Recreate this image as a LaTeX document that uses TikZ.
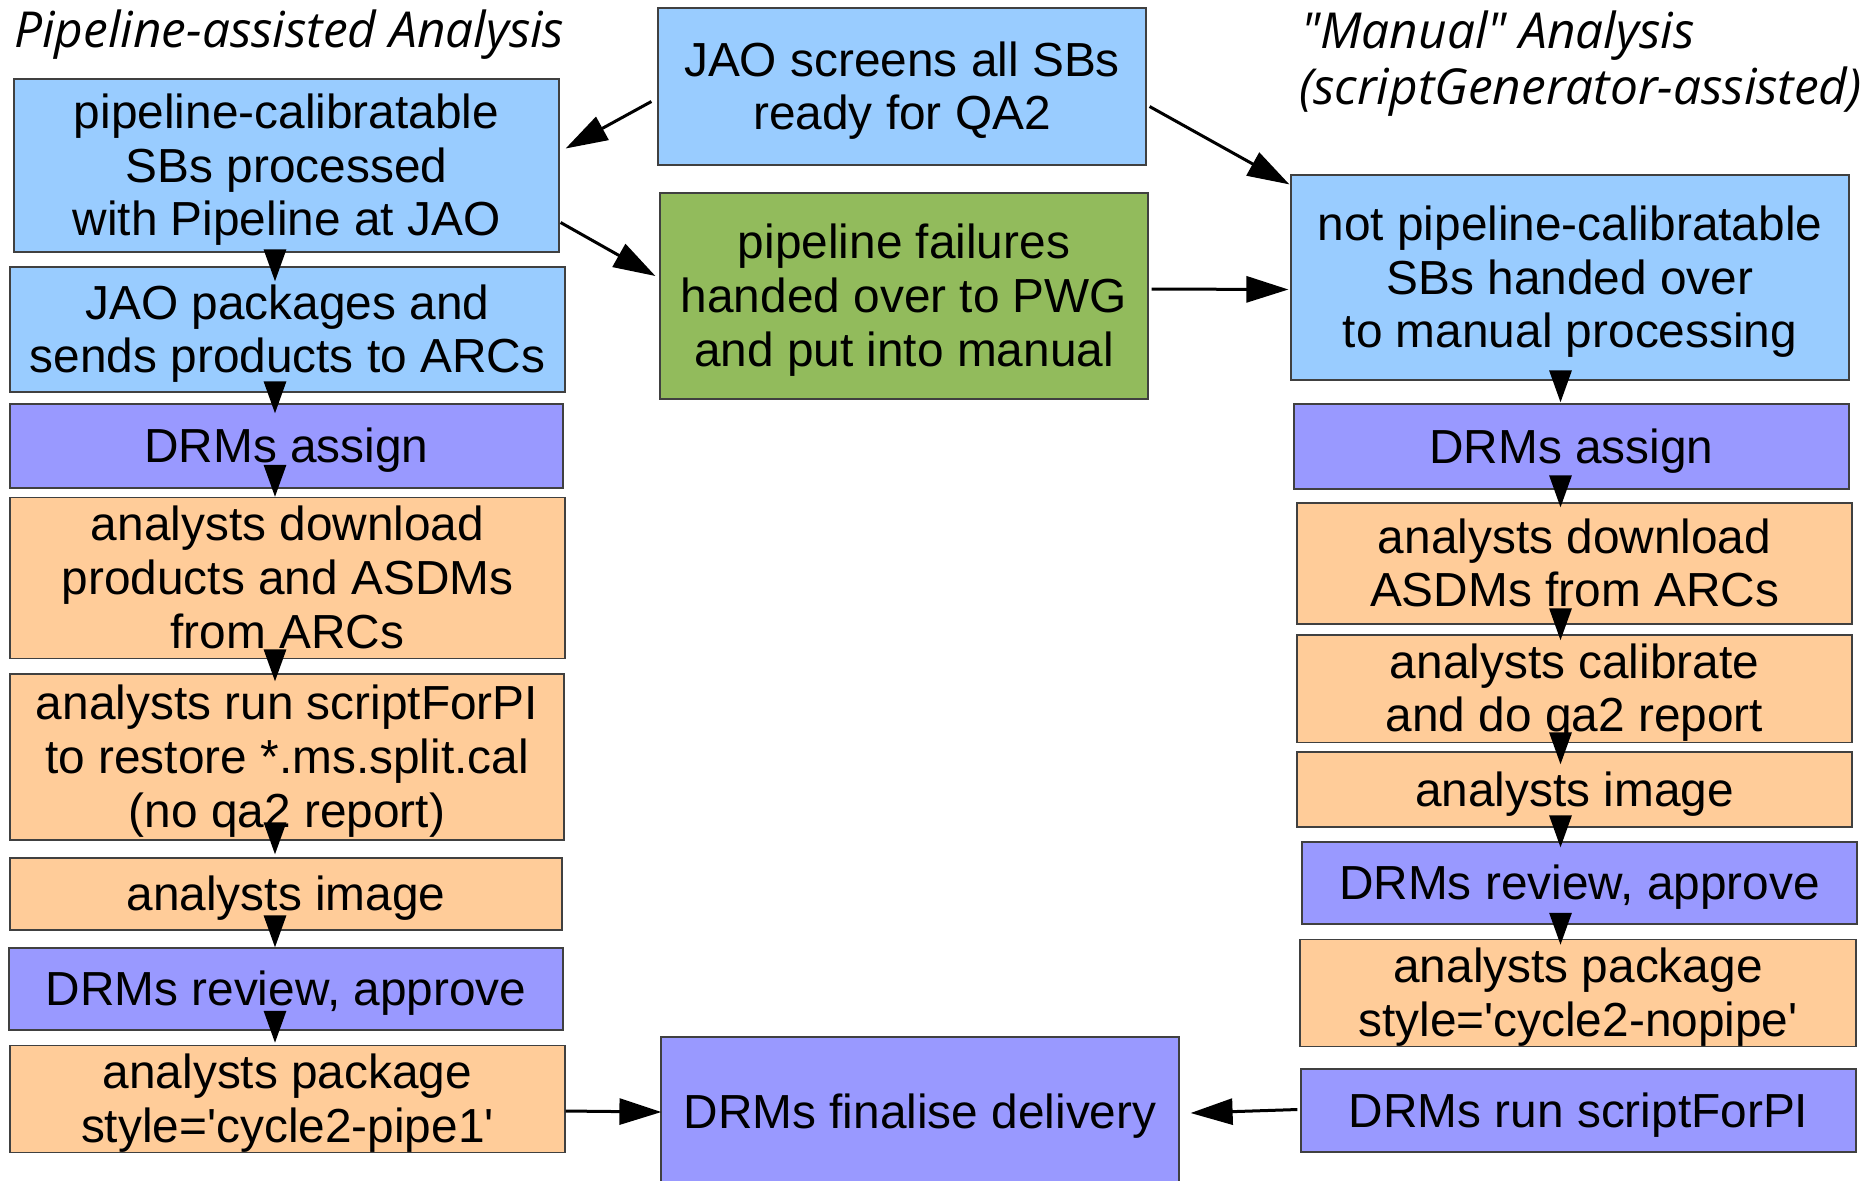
\documentclass[tikz,border=0pt]{standalone}
\usepackage{fontspec}
\setmainfont{Liberation Sans}[Ligatures=TeXOff]
\newfontfamily\titlefont{Open Sans}[Ligatures=TeXOff]
\usetikzlibrary{arrows.meta,calc}
\definecolor{cblue}{RGB}{153,204,255}
\definecolor{cpurp}{RGB}{153,153,255}
\definecolor{corng}{RGB}{255,204,153}
\definecolor{cgreen}{RGB}{146,187,92}
\newcommand\topstrut{\rule{0pt}{21.6pt}}
\newcommand\botstrut{\rule[-5.1pt]{0pt}{0pt}}
\begin{document}
\begin{tikzpicture}[x=0.5pt,y=-0.5pt,
  box/.style={draw=black!75, line width=0.6pt, inner sep=0pt, align=center,
    font=\fontsize{23.9pt}{26.9pt}\selectfont},
  bbox/.style={box, fill=cblue},
  pbox/.style={box, fill=cpurp},
  obox/.style={box, fill=corng},
  gbox/.style={box, fill=cgreen},
  corners/.style n args={4}{minimum width={(#3-#1)*0.5pt}, minimum height={(#4-#2)*0.5pt},
    at={({(#1+#3)/2},{(#2+#4)/2})}},
  ttl/.style={anchor=base west, inner sep=0pt, font=\titlefont\itshape\fontsize{24.8pt}{28pt}\selectfont},
  arr/.style={line width=1.5pt, -{Triangle[length=21pt,width=13pt]}},
  varr/.style={line width=1.5pt, -{Triangle[length=16pt,width=11pt]}},
]
\clip (0,0) rectangle (1871,1180);
\fill[white] (0,0) rectangle (1871,1180);

% titles
\node[ttl] (tl) at (14,47) {Pipeline-assisted Analysis};
\node[ttl] (tr1) at (1301,48) {"Manual" Analysis};
\node[ttl] (tr2) at (1299,104) {(scriptGenerator-assisted)};

% left column
\node[bbox, corners={14}{79}{559}{252}] (pcal) {\topstrut pipeline-calibratable\\SBs processed\\with Pipeline at JAO\botstrut};
\node[bbox, corners={10}{267}{565}{392}] (jpack) {\topstrut JAO packages and\\sends products to ARCs\botstrut};
\node[pbox, corners={10}{404}{563}{488}] (assignL) {\topstrut DRMs assign\botstrut};
\node[obox, corners={10}{499}{565}{657}] (dlL) {\topstrut analysts download\\products and ASDMs\\from ARCs\botstrut};
\node[obox, corners={10}{674}{564}{840}] (runL) {\topstrut analysts run scriptForPI\\to restore *.ms.split.cal\\(no qa2 report)\botstrut};
\node[obox, corners={10}{858}{562}{930}] (imageL) {\topstrut analysts image\botstrut};
\node[pbox, corners={9}{948}{563}{1030}] (reviewL) {\topstrut DRMs review, approve\botstrut};
\node[obox, corners={10}{1047}{565}{1151}] (pkgL) {\topstrut analysts package\\style='cycle2-pipe1'\botstrut};

% middle column
\node[bbox, corners={658}{8}{1146}{165}] (screen) {\topstrut JAO screens all SBs\\ready for QA2\botstrut};
\node[gbox, corners={660}{193}{1148}{399}] (fail) {\topstrut pipeline failures\\handed over to PWG\\and put into manual\botstrut};
\node[pbox, corners={661}{1037}{1179}{1187}] (final) {\topstrut DRMs finalise delivery\botstrut};

% right column
\node[bbox, corners={1291}{175}{1849}{380}] (notpipe) {\topstrut not pipeline-calibratable\\SBs handed over\\to manual processing\botstrut};
\node[pbox, corners={1294}{404}{1849}{489}] (assignR) {\topstrut DRMs assign\botstrut};
\node[obox, corners={1297}{503}{1852}{624}] (dlR) {\topstrut analysts download\\ASDMs from ARCs\botstrut};
\node[obox, corners={1297}{638}{1852}{739}] (calR) {\topstrut analysts calibrate\\and do qa2 report\botstrut};
\node[obox, corners={1297}{752}{1852}{827}] (imageR) {\topstrut analysts image\botstrut};
\node[pbox, corners={1302}{842}{1857}{924}] (reviewR) {\topstrut DRMs review, approve\botstrut};
\node[obox, corners={1300}{941}{1856}{1045}] (pkgR) {\topstrut analysts package\\style='cycle2-nopipe'\botstrut};
\node[pbox, corners={1301}{1069}{1856}{1152}] (runR) {\topstrut DRMs run scriptForPI\botstrut};

% column lines for vertical arrows
\coordinate (colL) at (275,0);
\coordinate (colR) at (1560.5,0);

% left vertical arrows
\draw[varr] ($(pcal.south -| colL)+(0,-2)$) -- ($(jpack.north -| colL)+(0,15)$);
\draw[varr] ($(jpack.south -| colL)+(0,-10)$) -- ($(assignL.north -| colL)+(0,10)$);
\draw[varr] ($(assignL.south -| colL)+(0,-21)$) -- ($(dlL.north -| colL)+(0,0)$);
\draw[varr] ($(dlL.south -| colL)+(0,-8)$) -- ($(runL.north -| colL)+(0,8)$);
\draw[varr] ($(runL.south -| colL)+(0,-17)$) -- ($(imageL.north -| colL)+(0,-3)$);
\draw[varr] ($(imageL.south -| colL)+(0,-14)$) -- ($(reviewL.north -| colL)+(0,0)$);
\draw[varr] ($(reviewL.south -| colL)+(0,-18)$) -- ($(pkgL.north -| colL)+(0,-2)$);

% right vertical arrows
\draw[varr] ($(notpipe.south -| colR)+(0,-10)$) -- ($(assignR.north -| colR)+(0,-1)$);
\draw[varr] ($(assignR.south -| colR)+(0,-13)$) -- ($(dlR.north -| colR)+(0,5)$);
\draw[varr] ($(dlR.south -| colR)+(0,-12)$) -- ($(calR.north -| colR)+(0,6)$);
\draw[varr] ($(calR.south -| colR)+(0,-6)$) -- ($(imageR.north -| colR)+(0,13)$);
\draw[varr] ($(imageR.south -| colR)+(0,-12)$) -- ($(reviewR.north -| colR)+(0,6)$);
\draw[varr] ($(reviewR.south -| colR)+(0,-11)$) -- ($(pkgR.north -| colR)+(0,6)$);

% cross arrows
\draw[arr] ($(screen.west)+(-6,15)$) -- ($(pcal.east)+(6,-17)$);
\draw[arr] ($(screen.east)+(3,20)$) -- ($(notpipe.north west)+(-1,10)$);
\draw[arr] ($(pcal.east)+(1,57)$) -- ($(fail.west)+(-4,-20)$);
\draw[arr] ($(fail.east)+(3,-7)$) -- ($(notpipe.west)+(-2,12)$);
\draw[arr] ($(pkgL.east)+(0,12)$) -- ($(final.west)+(1,0)$);
\draw[arr] ($(runR.west)+(-3,-1)$) -- ($(final.east)+(11,1)$);
\end{tikzpicture}
\end{document}
